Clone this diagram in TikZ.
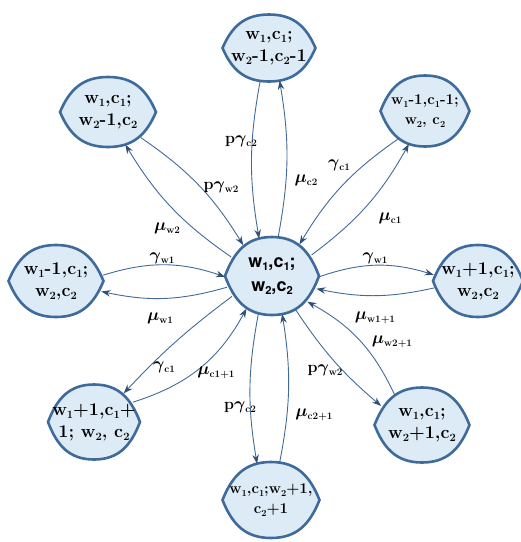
\documentclass[tikz,border=0pt]{standalone}
\usepackage{fontspec}
\newfontfamily\helvf{TeX Gyre Heros}
\usetikzlibrary{arrows.meta,shapes.geometric,backgrounds}
\definecolor{lensborder}{RGB}{62,106,156}
\definecolor{lensfill}{RGB}{220,235,245}
\definecolor{edgecol}{RGB}{66,106,152}
\definecolor{tipcol}{RGB}{46,80,120}
\newcommand\sbs[1]{\raisebox{-0.2em}{\scalebox{0.62}{#1}}}
\newcommand\gsub[1]{$\gamma$\sbs{#1}}
\newcommand\msub[1]{$\mu$\sbs{#1}}
% lens: name, half width, half height
\newcommand\lens[3]{\path[lensst,shift={(#1.center)}]
  (-#2,0) .. controls (-0.8*#2,-0.64*#3) and (-0.53*#2,-#3) .. (0,-#3)
  .. controls (0.53*#2,-#3) and (0.8*#2,-0.64*#3) .. (#2,0)
  .. controls (0.8*#2,0.64*#3) and (0.53*#2,#3) .. (0,#3)
  .. controls (-0.53*#2,#3) and (-0.8*#2,0.64*#3) .. (-#2,0) -- cycle;}
\tikzset{
  st/.style args={#1x#2}{ellipse, inner sep=0pt, outer sep=0pt, minimum width=#1pt, minimum height=#2pt},
  stxt/.style={align=center, font=\fontsize{18}{22}\selectfont\bfseries, inner sep=0pt},
  stxts/.style={align=center, font=\fontsize{15}{20}\selectfont\bfseries, inner sep=0pt},
  ctxt/.style={align=center, font=\helvf\fontsize{18}{24}\selectfont\bfseries, inner sep=0pt},
  lensst/.style={draw=lensborder, fill=lensfill, line width=2.6pt},
  edge/.style={draw=edgecol, line width=0.9pt, -{Stealth[length=9pt,width=6.5pt,color=tipcol,fill=tipcol]}},
  lab/.style={font=\fontsize{16}{18}\selectfont\bfseries\boldmath, inner sep=0pt}
}
\begin{document}
\begin{tikzpicture}[x=1pt,y=-1pt]
\useasboundingbox (0,0) rectangle (521,542);
% state nodes
\node[st=94x78] (C) at (272,276) {};
\node[st=93x67] (T) at (269,48) {};
\node[st=96x70] (TL) at (108,112) {};
\node[st=89x71] (TR) at (425,111) {};
\node[st=95x72] (L) at (56,281) {};
\node[st=90x72] (R) at (478,281) {};
\node[st=92x75] (BL) at (94,422) {};
\node[st=97x76] (B) at (271,500) {};
\node[st=95x75] (BR) at (422,425) {};
\begin{scope}[on background layer]
\lens{C}{47}{39}\lens{T}{46.5}{33.5}\lens{TL}{48}{35}\lens{TR}{44.5}{35.5}
\lens{L}{47.5}{36}\lens{R}{45}{36}\lens{BL}{46}{37.5}\lens{B}{48.5}{38}\lens{BR}{47.5}{37.5}
\end{scope}
% node texts
\node[ctxt] (Ct) at (C) {w\sbs{1},c\sbs{1};\\w\sbs{2},c\sbs{2}};
\node[stxt] (Tt) at (T) {w\sbs{1},c\sbs{1};\\w\sbs{2}-1,c\sbs{2}-1};
\node[stxt] (TLt) at (TL) {w\sbs{1},c\sbs{1};\\w\sbs{2}-1,c\sbs{2}};
\node[stxts] (TRt) at (TR) {w\sbs{1}-1,c\sbs{1}-1;\\w\sbs{2}, c\sbs{2}};
\node[stxt] (Lt) at (L) {w\sbs{1}-1,c\sbs{1};\\w\sbs{2},c\sbs{2}};
\node[stxt] (Rt) at (R) {w\sbs{1}+1,c\sbs{1};\\w\sbs{2},c\sbs{2}};
\node[stxt] (BLt) at (BL) {w\sbs{1}+1,c\sbs{1}+\\1; w\sbs{2}, c\sbs{2}};
\node[stxts] (Bt) at (B) {w\sbs{1},c\sbs{1};w\sbs{2}+1,\\c\sbs{2}+1};
\node[stxt] (BRt) at (BR) {w\sbs{1},c\sbs{1};\\w\sbs{2}+1,c\sbs{2}};
% edges
\draw[edge] (T.255) to[bend right=10] (C.109);
\draw[edge] (C.81) to[bend right=10] (T.288);
\draw[edge] (TL.-38) to[bend left=12] (C.133);
\draw[edge] (C.155) to[bend left=12] (TL.-62);
\draw[edge] (TR.226) to[bend right=12] (C.49);
\draw[edge] (C.28) to[bend right=12] (TR.244);
\draw[edge] (L.7) to[bend left=18] (C.181);
\draw[edge] (C.194) to[bend left=14] (L.347);
\draw[edge] (C.-1) to[bend left=18] (R.172);
\draw[edge] (R.189) to[bend left=12] (C.-16);
\draw[edge] (BR.132) to[bend right=18] (C.-36);
\draw[edge] (C.-55) to[bend right=8] (BR.155);
\draw[edge] (C.250) to[bend right=10] (B.111);
\draw[edge] (B.77) to[bend right=10] (C.-75);
\draw[edge] (C.207) to[bend right=5] (BL.44);
\draw[edge] (BL.27) to[bend right=22] (C.232);
% labels
\node[lab] (l1) at (241,141) {p\gsub{c2}};
\node[lab] (l2) at (306,180) {\msub{c2}};
\node[lab] (l3) at (221,187) {p\gsub{w2}};
\node[lab] (l4) at (167,228) {\msub{w2}};
\node[lab] (l5) at (339,165) {\gsub{c1}};
\node[lab] (l6) at (390,218) {\msub{c1}};
\node[lab] (l7) at (162,258) {\gsub{w1}};
\node[lab] (l8) at (160,318) {\msub{w1}};
\node[lab] (l9) at (375,258) {\gsub{w1}};
\node[lab] (l10) at (375,318) {\msub{w1+1}};
\node[lab] (l11) at (392,342) {\msub{w2+1}};
\node[lab] (l12) at (325,370) {p\gsub{w2}};
\node[lab] (l13) at (164,367) {\gsub{c1}};
\node[lab] (l14) at (216,373) {\msub{c1+1}};
\node[lab] (l15) at (240,407) {p\gsub{c2}};
\node[lab] (l16) at (314,415) {\msub{c2+1}};
\end{tikzpicture}
\end{document}
